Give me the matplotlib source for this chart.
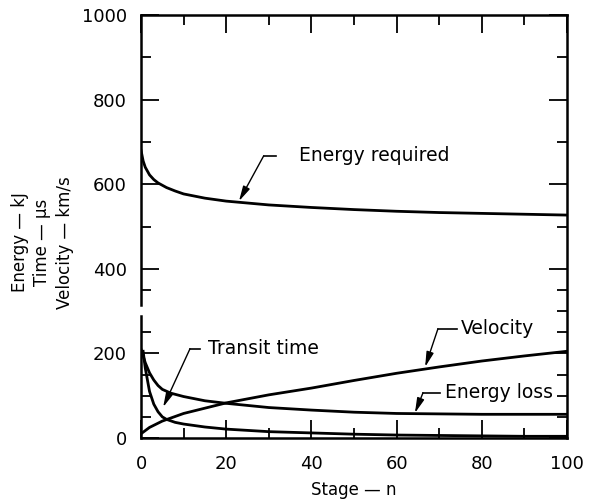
import numpy as np
import matplotlib.pyplot as plt
from matplotlib.ticker import MultipleLocator, FixedLocator

plt.rcParams['font.family'] = ['DejaVu Sans']

# Curves
stage_req = [0, 0.5, 1, 2, 3, 4, 6, 8, 10, 15, 20, 30, 40, 50, 60, 70, 80, 90, 100]
energy_req = [680, 655, 640, 622, 611, 603, 592, 584, 577, 567, 560, 551, 545, 540, 536, 533, 531, 529, 527]

stage_loss = [0, 1, 2, 3, 4, 5, 7, 10, 15, 20, 30, 40, 50, 60, 70, 80, 90, 100]
energy_loss = [210, 178, 154, 137, 124, 115, 106, 98, 88, 82, 72, 66, 61, 58, 57, 56, 56, 56]

stage_vel = [0, 2, 5, 10, 20, 30, 40, 50, 60, 70, 80, 90, 100]
velocity = [10, 25, 40, 58, 83, 102, 118, 136, 153, 168, 182, 194, 205]

stage_tr = [0.5, 1, 2, 3, 4, 5, 6, 8, 10, 15, 20, 30, 40, 50, 60, 70, 80, 90, 100]
transit = [205, 165, 110, 80, 62, 50, 44, 37, 33, 26, 21, 15, 12, 9, 7, 6, 5, 4, 4]

x_major = [0, 20, 40, 60, 80, 100]
y_major = [0, 200, 400, 600, 800, 1000]
y_minor = [50, 100, 150, 250, 300, 350, 500, 700, 900]

fig = plt.figure(figsize=(5.9, 5.0), dpi=100)
ax = fig.add_axes([0.239, 0.124, 0.722, 0.846])

lw = 2.0
ax.plot(stage_req, energy_req, color='k', lw=lw)
ax.plot(stage_loss, energy_loss, color='k', lw=lw)
ax.plot(stage_vel, velocity, color='k', lw=lw)
ax.plot(stage_tr, transit, color='k', lw=lw)

# labels with leader lines: (text, tip, corner, stub end, text x)
notes = [
    ('Energy required', (23, 560), (28.8, 667), 31.6, 37.2),
    ('Transit time', (5.2, 73), (11.5, 211), 13.8, 15.8),
    ('Velocity', (66.7, 168), (69.7, 258), 74.2, 75.2),
    ('Energy loss', (64.3, 59), (66.2, 107), 70.2, 71.4),
]
for txt, tip, corner, stub, tx in notes:
    ax.plot([corner[0], stub], [corner[1], corner[1]], color='k', lw=1.2)
    ax.annotate('', xy=tip, xytext=corner,
                arrowprops=dict(arrowstyle='-|>,head_length=0.9,head_width=0.22',
                                color='k', lw=1.0, mutation_scale=10,
                                shrinkA=0, shrinkB=0))
    ax.text(tx, corner[1], txt, ha='left', va='center', fontsize=13.5)

ax.set_xlim(0, 100)
ax.set_ylim(0, 1000)

# broken left axis
ax.spines['left'].set_visible(False)
yt = ax.get_yaxis_transform()
ax.plot([0, 0], [0, 288], transform=yt, color='k', lw=1.8, clip_on=False)
ax.plot([0, 0], [314, 1000], transform=yt, color='k', lw=1.8, clip_on=False)
for s in ['top', 'right', 'bottom']:
    ax.spines[s].set_linewidth(1.8)

ax.xaxis.set_major_locator(FixedLocator(x_major))
ax.xaxis.set_minor_locator(MultipleLocator(10))
ax.yaxis.set_major_locator(FixedLocator(y_major))
ax.yaxis.set_minor_locator(FixedLocator(y_minor))
ax.tick_params(which='both', direction='in', top=True, right=True,
               width=1.3, labelsize=13)
ax.tick_params(which='major', length=13, pad=10)
ax.tick_params(axis='x', which='major', pad=12)
ax.tick_params(which='minor', length=7)

# no tick inside the break on the left side
locs = ax.yaxis.get_minorticklocs()
for loc, t in zip(locs, ax.yaxis.get_minor_ticks(len(locs))):
    if loc == 300:
        t.tick1line.set_visible(False)

ax.set_xlabel('Stage \u2014 n', fontsize=12, labelpad=6)
fig.text(0.072, 0.515, 'Energy \u2014 kJ\nTime \u2014 \u03bcs\nVelocity \u2014 km/s',
         rotation=90, ha='center', va='center', fontsize=12,
         multialignment='center', linespacing=1.3)

fig.savefig('out.png', dpi=100)
